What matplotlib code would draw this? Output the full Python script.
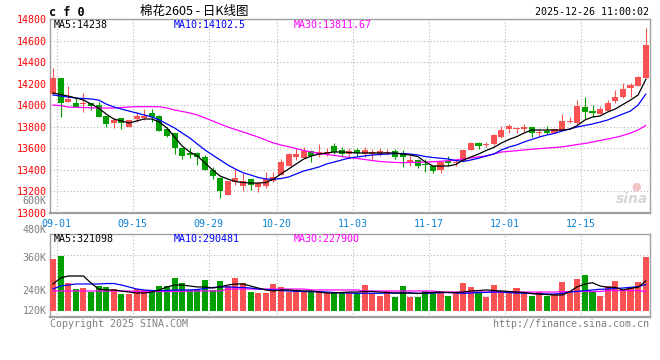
import numpy as np
import matplotlib
matplotlib.use('Agg')
import matplotlib.pyplot as plt
from matplotlib.transforms import ScaledTranslation

# 日K线数据 (09-01 .. 12-26, 79个交易日)
opens = [14101, 14250, 14033, 14018, 14008, 14018, 14002, 13900, 13832, 13879,
         13801, 13869, 13879, 13931, 13900, 13780, 13746, 13600, 13554, 13560,
         13522, 13399, 13328, 13167, 13290, 13253, 13316, 13244, 13253, 13300,
         13353, 13439, 13522, 13508, 13574, 13538, 13545, 13625, 13580, 13550,
         13580, 13550, 13545, 13550, 13555, 13575, 13554, 13461, 13492, 13450,
         13436, 13399, 13483, 13462, 13485, 13585, 13647, 13633, 13640, 13708,
         13776, 13778, 13780, 13795, 13746, 13764, 13745, 13764, 13845, 13832,
         13981, 13949, 13919, 13949, 14042, 14074, 14163, 14181, 14250]
closes = [14250, 14024, 14055, 13986, 14023, 13996, 13888, 13826, 13863, 13832,
          13863, 13900, 13900, 13888, 13764, 13714, 13600, 13529, 13541, 13522,
          13399, 13343, 13204, 13297, 13322, 13297, 13260, 13276, 13316, 13337,
          13470, 13545, 13545, 13578, 13529, 13563, 13570, 13570, 13550, 13575,
          13560, 13580, 13570, 13575, 13570, 13520, 13517, 13492, 13436, 13442,
          13392, 13476, 13461, 13470, 13585, 13647, 13622, 13640, 13724, 13770,
          13807, 13782, 13795, 13745, 13752, 13739, 13776, 13856, 13850, 13993,
          13940, 13925, 13965, 14018, 14074, 14151, 14188, 14259, 14559]
highs = [14343, 14250, 14178, 14064, 14111, 14018, 14033, 13900, 13879, 13879,
         13863, 13940, 13962, 13962, 13910, 13801, 13746, 13600, 13600, 13570,
         13538, 13430, 13337, 13300, 13414, 13369, 13320, 13290, 13378, 13383,
         13498, 13560, 13600, 13615, 13580, 13640, 13600, 13650, 13610, 13600,
         13600, 13610, 13590, 13600, 13590, 13590, 13585, 13538, 13500, 13498,
         13440, 13480, 13529, 13498, 13595, 13660, 13662, 13662, 13730, 13807,
         13826, 13801, 13826, 13800, 13776, 13807, 13780, 13919, 13888, 14048,
         14074, 14002, 13993, 14048, 14141, 14204, 14209, 14271, 14713]
lows = [14101, 13888, 14033, 13986, 13940, 13956, 13888, 13801, 13786, 13777,
        13801, 13847, 13863, 13847, 13764, 13702, 13547, 13498, 13508, 13445,
        13399, 13313, 13142, 13167, 13260, 13204, 13214, 13198, 13229, 13285,
        13353, 13439, 13492, 13508, 13476, 13522, 13530, 13545, 13520, 13510,
        13530, 13520, 13500, 13530, 13540, 13500, 13430, 13436, 13420, 13383,
        13374, 13374, 13436, 13436, 13480, 13580, 13591, 13615, 13635, 13700,
        13745, 13740, 13755, 13708, 13714, 13733, 13740, 13760, 13832, 13830,
        13870, 13888, 13915, 13945, 14018, 14070, 14079, 14180, 14245]

# 均线
ma5 = [14113, 14099, 14085, 14067, 14048, 14011, 13974, 13918, 13872, 13854,
       13835, 13854, 13872, 13872, 13844, 13789, 13705, 13621, 13566, 13529,
       13464, 13399, 13343, 13315, 13292, 13283, 13278, 13278, 13283, 13315,
       13362, 13408, 13455, 13501, 13529, 13547, 13557, 13566, 13566, 13561,
       13557, 13557, 13557, 13557, 13557, 13557, 13547, 13538, 13524, 13473,
       13436, 13436, 13436, 13450, 13492, 13520, 13547, 13580, 13608, 13649,
       13682, 13708, 13742, 13770, 13770, 13770, 13770, 13770, 13776, 13812,
       13863, 13891, 13900, 13937, 13965, 14007, 14048, 14095, 14238]
ma10 = [14095, 14086, 14076, 14067, 14062, 14058, 14048, 14011, 13984, 13965,
        13946, 13928, 13909, 13891, 13863, 13826, 13789, 13742, 13696, 13640,
        13585, 13538, 13492, 13446, 13408, 13374, 13353, 13330, 13316, 13313,
        13320, 13334, 13362, 13390, 13408, 13427, 13455, 13473, 13492, 13510,
        13520, 13529, 13538, 13543, 13547, 13552, 13552, 13547, 13538, 13524,
        13515, 13508, 13501, 13487, 13478, 13492, 13508, 13529, 13547, 13585,
        13612, 13631, 13659, 13682, 13705, 13724, 13738, 13761, 13780, 13798,
        13812, 13826, 13844, 13863, 13891, 13919, 13946, 14002, 14102]
ma30 = [14002, 13997, 13983, 13981, 13979, 13976, 13974, 13974, 13974, 13979,
        13983, 13986, 13986, 13986, 13986, 13974, 13956, 13942, 13928, 13909,
        13882, 13854, 13826, 13798, 13775, 13752, 13728, 13705, 13677, 13650,
        13631, 13615, 13598, 13580, 13566, 13554, 13543, 13534, 13524, 13515,
        13506, 13497, 13487, 13478, 13473, 13469, 13467, 13469, 13470, 13473,
        13476, 13480, 13485, 13492, 13501, 13510, 13520, 13529, 13547, 13566,
        13572, 13578, 13585, 13591, 13597, 13603, 13608, 13614, 13624, 13636,
        13645, 13659, 13673, 13687, 13701, 13719, 13742, 13770, 13812]

# 成交量
volume = [512000, 541000, 301000, 249000, 257000, 223000, 278000, 266000, 249000, 208000,
          208000, 249000, 243000, 228000, 278000, 278000, 347000, 304000, 243000, 252000,
          330000, 243000, 321000, 278000, 350000, 301000, 225000, 214000, 214000, 295000,
          266000, 223000, 237000, 228000, 223000, 225000, 214000, 228000, 214000, 214000,
          214000, 286000, 214000, 190000, 237000, 182000, 278000, 182000, 182000, 234000,
          214000, 228000, 190000, 214000, 306000, 271000, 219000, 184000, 286000, 237000,
          223000, 257000, 223000, 190000, 223000, 190000, 208000, 315000, 234000, 338000,
          373000, 228000, 193000, 280000, 324000, 243000, 263000, 315000, 532000]
vol_ma5 = [295000, 347000, 364500, 364500, 364500, 303600, 251000, 243000, 243000, 234000,
           225000, 216600, 216600, 225000, 243000, 269000, 286000, 286000, 277500, 269000,
           269000, 260000, 269000, 286000, 295000, 295000, 277500, 260000, 243000, 234000,
           243000, 243000, 238000, 234000, 234000, 225000, 216600, 216600, 221000, 225000,
           225000, 229700, 229700, 225000, 221000, 216600, 216600, 216600, 212000, 216600,
           221000, 225000, 221000, 221000, 225000, 234000, 238000, 243000, 238000, 234000,
           229700, 225000, 221000, 212000, 208000, 203500, 199000, 199000, 228000, 271000,
           295000, 306000, 277500, 266000, 266000, 243000, 257500, 266000, 321098]
vol_ma10 = [251000, 277500, 286000, 295000, 295000, 295000, 295000, 299000, 299000, 286000,
            269000, 251000, 243000, 238000, 236600, 238000, 243000, 243000, 243000, 247000,
            256000, 264500, 269000, 269000, 266000, 264500, 260000, 251000, 247000, 243000,
            238000, 234000, 231000, 229700, 228000, 228000, 225000, 221000, 216600, 216600,
            214000, 214000, 214000, 214000, 216600, 216600, 216600, 216600, 214000, 214000,
            216600, 219000, 221000, 216600, 214000, 216600, 221000, 222000, 225000, 225000,
            221000, 216600, 214000, 212000, 208000, 208000, 208000, 214000, 225000, 231000,
            236600, 243000, 249000, 251000, 256000, 260000, 266000, 271000, 290481]
vol_ma30 = [234000, 234000, 234000, 234000, 234000, 234000, 234000, 234000, 234000, 234000,
            234000, 229700, 229700, 229700, 229700, 229700, 229700, 229700, 234000, 234000,
            234000, 234000, 234000, 251000, 251000, 251000, 251000, 251000, 251000, 251000,
            251000, 251000, 251000, 251000, 243000, 243000, 243000, 243000, 243000, 243000,
            243000, 234000, 234000, 234000, 234000, 234000, 234000, 234000, 234000, 234000,
            234000, 225000, 225000, 225000, 225000, 225000, 225000, 225000, 225000, 225000,
            225000, 225000, 225000, 225000, 225000, 225000, 225000, 229700, 229700, 229700,
            229700, 229700, 229700, 238000, 238000, 238000, 238000, 238000, 227900]

date_labels = ['09-01', '09-15', '09-29', '10-20', '11-03', '11-17', '12-01', '12-15']
date_idx = [0, 10, 20, 29, 39, 49, 59, 69]
price_ticks = [13000, 13200, 13400, 13600, 13800, 14000, 14200, 14400, 14600, 14800]
vol_labels = ['600K', '480K', '360K', '240K', '120K']

RED = '#fa5252'
GREEN = '#00a000'
GRID = '#b4b4b4'
EDGE = '#a0a0a0'
MONO = 'DejaVu Sans Mono'
W, H = 660, 360


def fx(px):
    return px / W


def fy(py):
    return 1 - py / H


fig = plt.figure(figsize=(6.6, 3.6), dpi=100)
ax = fig.add_axes([fx(50.5), fy(213), 599 / W, 194 / H])
axv = fig.add_axes([fx(50.5), fy(317), 599 / W, 83 / H])

o = np.array(opens)
c = np.array(closes)
x = np.arange(len(c))
up = c >= o
col = np.where(up, RED, GREEN)

# K线
ax.vlines(x, lows, highs, colors=col, linewidth=0.8, zorder=3)
ax.bar(x, np.maximum(np.abs(c - o), 9), bottom=np.minimum(o, c), width=0.8,
       color=col, linewidth=0, zorder=3)
ax.plot(x, ma30, color='#ff00ff', lw=0.9, zorder=4)
ax.plot(x, ma10, color='#0000ff', lw=0.9, zorder=4)
ax.plot(x, ma5, color='black', lw=0.9, zorder=4)

ax.set_xlim(-0.33, 78.5)
ax.set_ylim(13000, 14800)
ax.set_yticks(price_ticks)
ax.set_yticklabels([str(t) for t in price_ticks], color='#ff0000', fontsize=7.2, family=MONO)
for lab in ax.get_yticklabels():
    lab.set_transform(lab.get_transform() + ScaledTranslation(0, 2.5 / 72, fig.dpi_scale_trans))
ax.set_xticks(np.array(date_idx) + 0.5)
ax.set_xticklabels(date_labels, color='#0a84d8', fontsize=7.2, family=MONO)
ax.tick_params(length=0, pad=3)
ax.tick_params(axis='x', pad=4)
ax.grid(True, ls=(0, (1, 2)), color=GRID, lw=0.8)

# 成交量
vol_floor = 60000
axv.bar(x, np.array(volume) - vol_floor, bottom=vol_floor, width=0.8, color=col, linewidth=0, zorder=3)
axv.plot(x, vol_ma30, color='#ff00ff', lw=0.9, zorder=4)
axv.plot(x, vol_ma10, color='#0000ff', lw=0.9, zorder=4)
axv.plot(x, vol_ma5, color='black', lw=0.9, zorder=4)
axv.set_xlim(-0.33, 78.5)
axv.set_ylim(7800, 729900)
axv.set_yticks([190500, 364500, 547200])
axv.set_xticks(np.array(date_idx) + 0.5)
axv.tick_params(length=0, labelleft=False, labelbottom=False)
axv.grid(True, ls=(0, (1, 2)), color=GRID, lw=0.8)

for a in (ax, axv):
    for s in a.spines.values():
        s.set_color(EDGE)
        s.set_linewidth(1)
    a.spines['bottom'].set_linewidth(1.6)

# 左侧成交量刻度
for lab, py in zip(vol_labels, [201, 230.5, 258, 290.5, 310.5]):
    fig.text(fx(46.5), fy(py), lab, ha='right', va='center', color='#808080', fontsize=7.2, family=MONO)

# 标题与说明文字
fig.text(fx(49), fy(12), 'c f 0', fontsize=8.5, fontweight='bold', family=MONO, va='center')
fig.text(fx(140), fy(12), '棉花2605 - 日K线图', fontsize=9, va='center',
         family=['Noto Sans CJK SC', 'DejaVu Sans'])
fig.text(fx(649), fy(12), '2025-12-26 11:00:02', ha='right', va='center', fontsize=7.2, family=MONO)

fig.text(fx(54), fy(24.5), 'MA5:14238', color='black', fontsize=7.2, family=MONO, va='center')
fig.text(fx(174), fy(24.5), 'MA10:14102.5', color='#0000ff', fontsize=7.2, family=MONO, va='center')
fig.text(fx(294), fy(24.5), 'MA30:13811.67', color='#ff00ff', fontsize=7.2, family=MONO, va='center')

fig.text(fx(54), fy(238.5), 'MA5:321098', color='black', fontsize=7.2, family=MONO, va='center')
fig.text(fx(174), fy(238.5), 'MA10:290481', color='#0000ff', fontsize=7.2, family=MONO, va='center')
fig.text(fx(294), fy(238.5), 'MA30:227900', color='#ff00ff', fontsize=7.2, family=MONO, va='center')

fig.text(fx(50), fy(324), 'Copyright 2025 SINA.COM', color='#808080', fontsize=7.2, family=MONO, va='center')
fig.text(fx(649), fy(324), 'http://finance.sina.com.cn', color='#808080', fontsize=7.2, family=MONO,
         va='center', ha='right')

# 水印
fig.text(fx(632), fy(199), 'sina', color='#d6d6d6', fontsize=10, fontweight='bold', style='italic',
         ha='center', va='center')
fig.text(fx(636), fy(187), '●', color='#f2c4c4', fontsize=8, ha='center', va='center')

fig.savefig('out.png', dpi=100)
